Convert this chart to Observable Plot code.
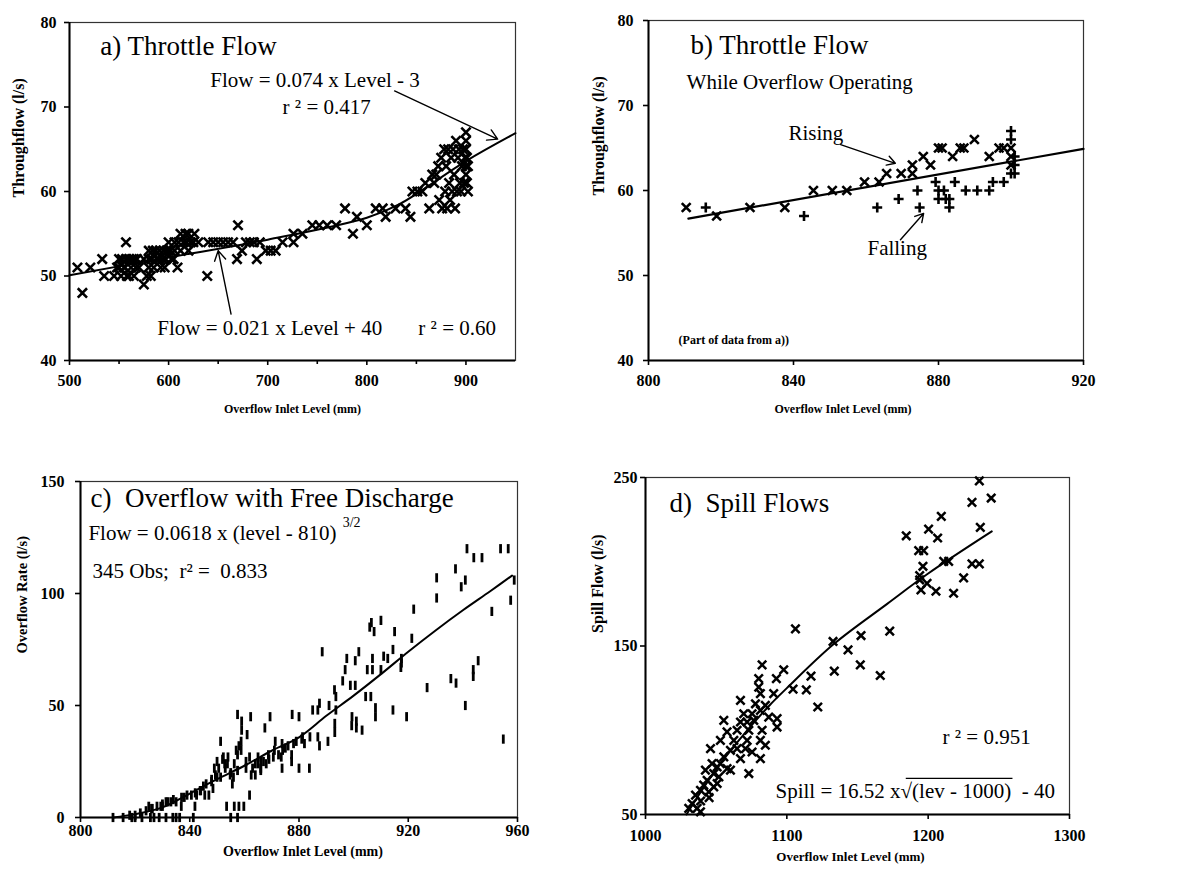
<!DOCTYPE html>
<html>
<head>
<meta charset="utf-8">
<script src="https://cdn.jsdelivr.net/npm/d3@7"></script>
<script src="https://cdn.jsdelivr.net/npm/@observablehq/plot@0.6"></script>
<style>
  body { margin: 0; background: #fff; }
  #wrap { position: relative; width: 1177px; height: 869px; background: #fff; overflow: hidden; }
</style>
</head>
<body>
<div id="wrap"></div>
<script>
// ---------------- DATA ----------------
// Panel a: throttle flow (level mm, flow l/s)
const throttleObs = [
  [508,51],[513,48],[521,51],[533,52],[535,50],[545,50],[548,51],[550,52],[550,51],[552,50],[553,52],[555,51],
  [556,51],[557,52],[557,54],[558,50],[560,52],[560,50],[562,51],[563,52],[565,52],[565,50],[567,51],[568,52],
  [570,51],[575,49],[575,52],[578,50],[580,51],[580,53],[580,52],[582,50],[583,52],[584,53],[585,51],[587,53],
  [588,52],[590,52],[591,53],[592,51],[594,52],[595,53],[596,51],[597,52],[598,53],[600,54],[600,53],[602,53],
  [603,52],[605,52],[606,54],[606,53],[609,51],[610,54],[612,53],[612,55],[615,54],[617,55],[618,54],[620,55],
  [620,53],[622,54],[625,54],[626,55],[630,54],[639,50],[640,54],[645,54],[650,54],[655,54],[660,54],[665,54],
  [669,52],[670,56],[674,53],[678,54],[682,54],[686,54],[689,52],[692,54],[698,53],[703,53],[708,53],[715,54],
  [726,54],[726,55],[735,55],[745,56],[752,56],[760,56],[769,56],[778,58],[786,55],[790,57],[800,56],[809,58],
  [816,58],[819,57],[829,58],[839,58],[844,57],[846,60],[851,60],[856,60],[859,61],[863,58],[866,62],[868,61],
  [870,62],[872,63],[873,59],[875,64],[876,58],[878,65],[879,60],[880,63],[881,58],[882,65],[883,61],[884,59],
  [885,64],[886,60],[887,65],[888,62],[889,58],[890,66],[891,60],[892,64],[893,65],[894,61],[895,60],[896,63],
  [897,65],[898,61],[899,64],[900,62],[900,63],[900,65],[900,66],[900,67],[901,64],[901,61],[902,63],[902,60]
];
const throttleFit = [[500,50.1],[600,52.2],[700,54.3],[800,56.9],[833,58.5],[900,63.6],[950,66.9]];

// Panel b: throttle flow while overflow operating
const risingObs = [
  [810.4,58],[818.8,57],[828,58],[837.6,58],[845.5,60],[850.7,60],[854.7,60],[859.6,61],[863.6,61],[865.7,62],
  [869.7,62],[872.8,62],[872.8,63],[875.8,64],[877.8,63],[880,65],[881,65],[883.9,64],[886,65],[887,65],
  [889.9,66],[894,64],[896.7,65],[898,65],[900,65],[900,64],[900,63]
];
const fallingObs = [
  [815.8,58],[842.9,57],[863.1,58],[869,59],[874.2,60],[874.8,58],[879.2,61],[880,60],[880,59],[881.5,60],
  [882,59],[883,58],[883,59],[884.5,61],[887.5,60],[890.7,60],[894,60],[895,61],[898,61],[900,67],[900,66],
  [900,62],[901,64],[901,63],[901,62]
];
const risingFit = [[811,56.7],[920,64.9]];

// Panel c: overflow with free discharge (level mm, rate l/s)
const overflowObs = [
  [930.4,107],[930.4,98],[937.3,111],[939.4,103],[941.5,120],[944,116],[947,116],[940.9,106],[953.8,120],
  [956.6,120],[958.8,106],[957.5,97],[950.6,92],[922,93],[921.3,80],[915,83],[906.5,87],[905.9,85],[910,88],
  [907.5,83],[901.9,74],[897.5,71],[900.6,70],[906.9,71],[905,66],[906.9,66],[910,66],[911,72],[912.5,71],
  [914.4,75],[917.5,71],[917.5,69],[917.3,67],[888.5,74],[896.9,66],[896,61],[898.8,59],[900.6,59],[893,57],
  [904.4,54],[906.3,54],[908,49],[914.4,48],[919.4,45],[908,45],[899.4,45],[901,43],[899.3,41],[901,40],
  [903.1,39],[926.9,58],[935.6,62],[937.5,60],[943.8,66],[943.8,63],[945.6,70],[940.9,50],[954.8,35],
  [893.5,54],[893.5,48],[893.1,42],[893.1,38],[891,50],[887.5,51],[886.9,48],[885,48],[890.6,34],[887.5,32],
  [886.9,36],[884,36],[881.3,36],[883.8,22],[880,22],[880,45],[877.5,46],[877.3,28],[877.3,25],[873.8,33],
  [875,31],[872.5,28],[873.5,27],[873.8,22],[869.4,45],[867.5,40],[871.3,34],[870.6,27],[868.8,28],[866,22],
  [865,27],[864,19],[866,25],[862.3,45],[861,37],[861.9,27],[862.5,19],[861.9,10],[859.8,5],[860.6,25],
  [860.6,22],[857.5,46],[859,43],[859,39],[858.8,34],[858.8,30],[857.5,28],[856.3,24],[857.5,21],[856.3,5],
  [858,5],[857.5,0],[855,0],[851.3,34],[852.3,27],[852.8,24],[853.8,24],[853,22],[853.5,5],[854.8,19],
  [855.6,15],[850.6,22],[851.3,18],[849.4,19],[848,16],[848.5,13],[847,10],[845,14],[845.5,10],[843.8,12],
  [842.5,10],[840.6,10],[841.9,5],[838,9],[836.9,5],[836.3,0],[835,0],[833.8,0],[835,7],[833.1,7],[831.3,7],
  [830,6],[829.4,5],[831.3,0],[828.8,0],[826.9,0],[825.6,0],[825,5],[826.3,4],[821.9,2],[822.5,0],[820,0],
  [818.8,0],[815.6,0],[811.9,0],[841.3,0],[863,22],[865,24],[867,25],[869,26],[871,30],[874,30],[876,32],
  [878,33],[879,34],[881,35],[882,33],[868,24],[866,21],[864,24],[855,20],[856,18],[850,18],[848,17],[846,15],
  [844,12],[842,11],[839,10],[837,9],[834,8],[832,7],[830,5],[828,5],[826,4],[824,3],[820,1],[818,1],[852,26],
  [854,27],[857,30],[850,25],[849,22],[858,32]
];
const overflowFit = [[812,0],[820,1.5],[830,4.5],[840,10.7],[850,17.1],[860,23.1],[870,29.8],[880,35.8],
  [890,45.4],[900,54.4],[910,64],[920,74],[930,83.5],[940,92.5],[950,101],[958,108]];

// Panel d: spill flows (level mm, spill l/s)
const spillObs = [
  [1080.1,130.6],[1080.1,125.6],[1081.3,121.7],[1077.8,115.7],[1081.3,111.8],[1076.6,105.9],[1082.5,100],
  [1081.3,94],[1081.3,83.2],[1071.9,94],[1073.1,100],[1067.2,117.7],[1069.5,109.8],[1067.2,104.9],[1064.8,100],
  [1062.5,94],[1057.7,99],[1055.4,105.9],[1053,94],[1060.1,88.1],[1055.4,84.2],[1050.7,78.2],[1048.3,74.3],
  [1053,80.2],[1046,89.1],[1047.1,80.2],[1042.4,76.3],[1043.6,70.3],[1038.9,64.4],[1035.4,61.5],[1033,56.5],
  [1038.9,51.6],[1036.5,53.6],[1030.6,53.6],[1073.1,74.3],[1067.2,83.2],[1084.8,91.1],[1075.4,87.1],
  [1060.1,76.3],[1057.7,77.2],[1051.9,72.3],[1050.7,68.4],[1044.8,63.4],[1048.3,66.4],[1041.2,67.4],
  [1087.2,107.8],[1084.8,114.8],[1071.9,104.9],[1075.4,109.8],[1070.7,89.1],[1064.8,89.1],
  [1236.2,248],[1231,235.2],[1244.6,237.8],[1209.3,226.9],[1184.5,215.4],[1200.3,219.4],[1206.7,214.1],
  [1236.9,220.4],[1193.3,206.6],[1196.8,206.6],[1196.3,197.3],[1211,200.2],[1214.5,200.2],[1231,198.7],
  [1236.2,198.7],[1194,191.8],[1194,189.2],[1199.2,187.2],[1194.9,183.3],[1205.5,182.5],[1225.1,190.4],
  [1218,181.3],[1106.1,160.2],[1172.8,158.8],[1132.7,152.7],[1152.5,156.2],[1143.3,147.7],[1133.6,135.1],
  [1152,138.8],[1166.1,132.5],[1117.1,132.1],[1113.8,124],[1121.9,113.8],[1104.4,124.4],[1097.8,135.9],
  [1092.6,130.6],[1090.7,121.7],[1093.1,106.9],[1093.1,101.9],[1082.5,138.8],[1039,58],[1045,60]
];
const spillFit = [[1029,50],[1040,64.5],[1050,76.8],[1065,93],[1088,115],[1100,125],[1133,151],[1171,175],
  [1200,193],[1245,218]];

// Tick values
const aXTicks = [500,600,700,800,900], aXMinor = [550,650,750,850], aYTicks = [40,50,60,70,80];
const bXTicks = [800,840,880,920], bYTicks = [40,50,60,70,80];
const cXTicks = [800,840,880,920,960], cYTicks = [0,50,100,150];
const dXTicks = [1000,1100,1200,1300], dYTicks = [50,150,250];

// ---------------- DRAWING ----------------
const wrap = document.getElementById("wrap");
const serif = "'Liberation Serif', 'Times New Roman', serif";
const X = d => d[0], Y = d => d[1];
const vbar = { draw(ctx) { ctx.moveTo(-1.4,-4.6); ctx.lineTo(1.4,-4.6); ctx.lineTo(1.4,4.6); ctx.lineTo(-1.4,4.6); ctx.closePath(); } };

function note(items, size) {
  return Plot.text(items, {x: d => d.x, y: d => d.y, text: d => d.t, textAnchor: "start", lineAnchor: "bottom",
    fontSize: size, fontWeight: "normal", fill: "black"});
}

function makePanel(c) {
  const svg = Plot.plot({
    width: c.width, height: c.height,
    marginLeft: c.ml, marginRight: c.mr, marginTop: c.mt, marginBottom: c.mb,
    x: {domain: c.xDomain, label: null},
    y: {domain: c.yDomain, label: null},
    style: {fontFamily: serif, fontSize: "16px", fontWeight: "bold", color: "black", background: "transparent", overflow: "visible"},
    marks: [
      Plot.frame({stroke: "#333", strokeWidth: 1.2}),
      Plot.ruleX([c.xDomain[0]], {strokeWidth: 2}),
      Plot.ruleY([c.yDomain[0]], {strokeWidth: 2}),
      Plot.axisX(c.xTicks, {anchor: "bottom", tickSize: 5, tickPadding: c.xPad, tickFormat: d => String(d), label: null, strokeWidth: 1.6, fontSize: 16, fontWeight: "bold"}),
      ...(c.xMinor ? [Plot.axisX(c.xMinor, {anchor: "bottom", tickSize: 4, tickFormat: () => "", label: null, strokeWidth: 1.6})] : []),
      Plot.axisY(c.yTicks, {anchor: "left", tickSize: 5, tickPadding: c.yPad, tickFormat: d => String(d), label: null, strokeWidth: 1.6, fontSize: 16, fontWeight: "bold"}),
      Plot.text([c.xLabel], {frameAnchor: "bottom", dy: c.xLabelDy, dx: c.xLabelDx, fontSize: c.xLabelSize, fontWeight: "bold"}),
      Plot.text([c.yLabel], {frameAnchor: "left", rotate: -90, dx: c.yLabelDx, dy: c.yLabelDy, fontSize: c.yLabelSize, fontWeight: "bold"}),
      ...c.marks
    ]
  });
  svg.style.position = "absolute";
  svg.style.left = c.left + "px";
  svg.style.top = c.top + "px";
  wrap.appendChild(svg);
}

// Panel a
makePanel({
  left: 0, top: 0, width: 580, height: 400, ml: 69, mr: 65, mt: 22, mb: 40,
  xDomain: [500, 950], yDomain: [40, 80], xTicks: aXTicks, xMinor: aXMinor, yTicks: aYTicks,
  xPad: 9, yPad: 8,
  xLabel: "Overflow Inlet Level (mm)", xLabelDy: 52, xLabelDx: 0, xLabelSize: 12,
  yLabel: "Throughflow (l/s)", yLabelDx: -51, yLabelDy: 6, yLabelSize: 16,
  marks: [
    Plot.line(throttleFit, {x: X, y: Y, strokeWidth: 2, curve: "catmull-rom"}),
    Plot.dot(throttleObs, {x: X, y: Y, symbol: "times", r: 4.3, stroke: "black", strokeWidth: 2.6}),
    Plot.arrow([[828,71.9,932,66.2],[663,45.5,650,53.0]], {x1: d => d[0], y1: d => d[1], x2: d => d[2], y2: d => d[3], headLength: 12, strokeWidth: 1.4}),
    note([{t: "a) Throttle Flow", x: 531, y: 76.1}], 27),
    note([{t: "Flow = 0.074 x Level - 3", x: 642, y: 72.4}, {t: "r ² = 0.417", x: 715, y: 69.2},
          {t: "Flow = 0.021 x Level + 40", x: 588.5, y: 43.0}, {t: "r ² = 0.60", x: 852, y: 43.0}], 21)
  ]
});

// Panel b
makePanel({
  left: 580, top: 0, width: 597, height: 400, ml: 68, mr: 94, mt: 20, mb: 40,
  xDomain: [800, 920], yDomain: [40, 80], xTicks: bXTicks, yTicks: bYTicks,
  xPad: 9, yPad: 10,
  xLabel: "Overflow Inlet Level (mm)", xLabelDy: 52, xLabelDx: -23, xLabelSize: 12,
  yLabel: "Throughflow (l/s)", yLabelDx: -50, yLabelDy: 5, yLabelSize: 16,
  marks: [
    Plot.line(risingFit, {x: X, y: Y, strokeWidth: 2.2}),
    Plot.dot(risingObs, {x: X, y: Y, symbol: "times", r: 4.1, stroke: "black", strokeWidth: 2.6}),
    Plot.dot(fallingObs, {x: X, y: Y, symbol: "plus", r: 3.3, stroke: "black", strokeWidth: 2.6}),
    Plot.arrow([[853,65.4,868.1,63.2],[869.5,54.2,875.9,57.3]], {x1: d => d[0], y1: d => d[1], x2: d => d[2], y2: d => d[3], headLength: 10, strokeWidth: 1.4}),
    note([{t: "b) Throttle Flow", x: 811.6, y: 76.1}], 27),
    note([{t: "While Overflow Operating", x: 810.5, y: 72.0}, {t: "Rising", x: 838.6, y: 65.9}, {t: "Falling", x: 860.4, y: 52.4}], 21),
    Plot.text([{t: "(Part of data from a))", x: 808.3, y: 42.0}], {x: d => d.x, y: d => d.y, text: d => d.t, textAnchor: "start", lineAnchor: "bottom", fontSize: 12, fontWeight: "bold"})
  ]
});

// Panel c
makePanel({
  left: 0, top: 440, width: 580, height: 429, ml: 80, mr: 63, mt: 41, mb: 52,
  xDomain: [800, 960], yDomain: [0, 150], xTicks: cXTicks, yTicks: cYTicks,
  xPad: 2, yPad: 11,
  xLabel: "Overflow Inlet Level (mm)", xLabelDy: 38, xLabelDx: 4, xLabelSize: 14,
  yLabel: "Overflow Rate (l/s)", yLabelDx: -58, yLabelDy: 4, yLabelSize: 14.5,
  marks: [
    Plot.line(overflowFit, {x: X, y: Y, strokeWidth: 2, curve: "catmull-rom"}),
    Plot.dot(overflowObs, {x: X, y: Y, symbol: vbar, fill: "black", stroke: "none"}),
    note([{t: "c)\u00a0 Overflow with Free Discharge", x: 803.7, y: 138.4}], 27),
    note([{t: "Flow = 0.0618 x (level - 810)", x: 802.9, y: 123.7}, {t: "345 Obs;\u00a0 r² =\u00a0 0.833", x: 804.4, y: 107.1}], 21),
    note([{t: "3/2", x: 896, y: 129.5}], 14)
  ]
});

// Panel d
makePanel({
  left: 580, top: 440, width: 597, height: 429, ml: 65, mr: 108, mt: 37, mb: 55,
  xDomain: [1000, 1300], yDomain: [50, 250], xTicks: dXTicks, yTicks: dYTicks,
  xPad: 10, yPad: 3,
  xLabel: "Overflow Inlet Level (mm)", xLabelDy: 46, xLabelDx: -7, xLabelSize: 13,
  yLabel: "Spill Flow (l/s)", yLabelDx: -48, yLabelDy: -13, yLabelSize: 16,
  marks: [
    Plot.line(spillFit, {x: X, y: Y, strokeWidth: 2, curve: "catmull-rom"}),
    Plot.dot(spillObs, {x: X, y: Y, symbol: "times", r: 3.9, stroke: "black", strokeWidth: 2.5}),
    note([{t: "d)\u00a0 Spill Flows", x: 1017, y: 229.8}], 27),
    note([{t: "r ² = 0.951", x: 1210.2, y: 92.1}, {t: "Spill = 16.52 x√(lev - 1000)\u00a0 - 40", x: 1092, y: 59.5}], 21),
    Plot.ruleY([71.4], {x1: 1184.5, x2: 1260, strokeWidth: 1.2})
  ]
});
</script>
</body>
</html>
